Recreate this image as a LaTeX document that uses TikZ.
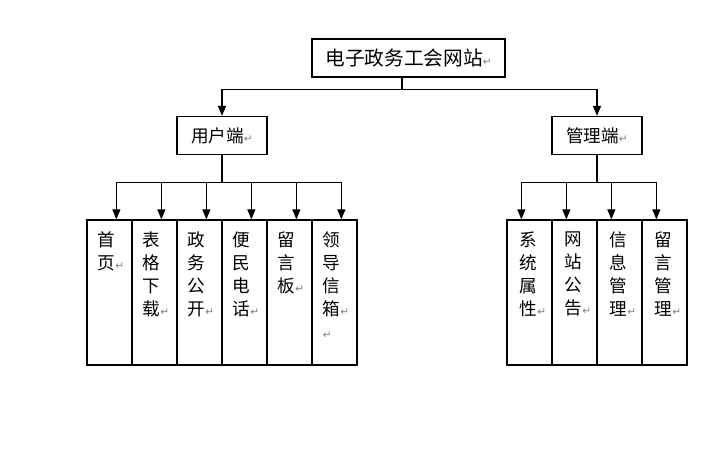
\documentclass[tikz,border=0pt]{standalone}
\usepackage{fontspec}
\setmainfont{Noto Sans CJK SC}
\newfontfamily\markfont{DejaVu Sans}
\usetikzlibrary{arrows.meta}
% Word paragraph mark after each text
\newcommand{\pmark}{{\markfont\fontsize{7.5pt}{7.5pt}\selectfont\color{gray}↵}}

\begin{document}
\begin{tikzpicture}[x=0.025cm, y=-0.025cm,
  box/.style={draw, line width=0.9pt, minimum height=0.95cm, inner sep=0pt, font=\fontsize{12.5pt}{15pt}\selectfont},
  col/.style={draw, line width=0.9pt, minimum width=1.125cm, minimum height=3.625cm, inner sep=0pt},
  coltext/.style={anchor=north west, inner sep=0pt, align=left, font=\fontsize{12.5pt}{16.3pt}\selectfont},
  arr/.style={line width=0.9pt, -{Triangle[length=2.5mm, width=2mm]}}]
\fill[white] (0,0) rectangle (717,449);
\useasboundingbox (0,0) rectangle (717,449);
% Site box
\node[box, minimum width=4.825cm, font=\fontsize{14pt}{16pt}\selectfont] (site) at (408.5,58) {电子政务工会网站\pmark};
% Two ends
\node[box, minimum width=2.25cm] (user) at (222,135.5) {用户端\pmark};
\node[box, minimum width=2.25cm] (admin) at (597,135.5) {管理端\pmark};
% Site to the two ends
\coordinate (hub) at ([xshift=-0.16cm, yshift=-0.3cm]site.south);
\draw[line width=0.9pt] (hub |- site.south) -- (hub);
\draw[arr] (hub) -| (user.north);
\draw[arr] (hub) -| (admin.north);
% User end columns
\path (user.south) ++(0,27) coordinate (ubus);
\draw[line width=0.9pt] (user.south) -- (ubus);
\foreach \txt [count=\i] in {{首\\页\pmark}, {表\\格\\下\\载\pmark}, {政\\务\\公\\开\pmark}, {便\\民\\电\\话\pmark}, {留\\言\\板\pmark}, {领\\导\\信\\箱\pmark\\\pmark}} {
  \node[col] (u\i) at (64.5+45*\i,292.5) {};
  \node[coltext] (ut\i) at ([xshift=0.28cm, yshift=-0.3cm]u\i.north west) {\txt};
  \draw[arr] (ubus) -| ([xshift=0.75cm]u\i.north west);
}
% Admin end columns
\path (admin.south) ++(0,27) coordinate (abus);
\draw[line width=0.9pt] (admin.south) -- (abus);
\foreach \txt [count=\i] in {{系\\统\\属\\性\pmark}, {网\\站\\公\\告\pmark}, {信\\息\\管\\理\pmark}, {留\\言\\管\\理\pmark}} {
  \node[col] (a\i) at (484.5+45*\i,292.5) {};
  \node[coltext] (at\i) at ([xshift=0.33cm, yshift=-0.3cm]a\i.north west) {\txt};
  \draw[arr] (abus) -| ([xshift=0.375cm]a\i.north west);
}
\end{tikzpicture}
\end{document}
